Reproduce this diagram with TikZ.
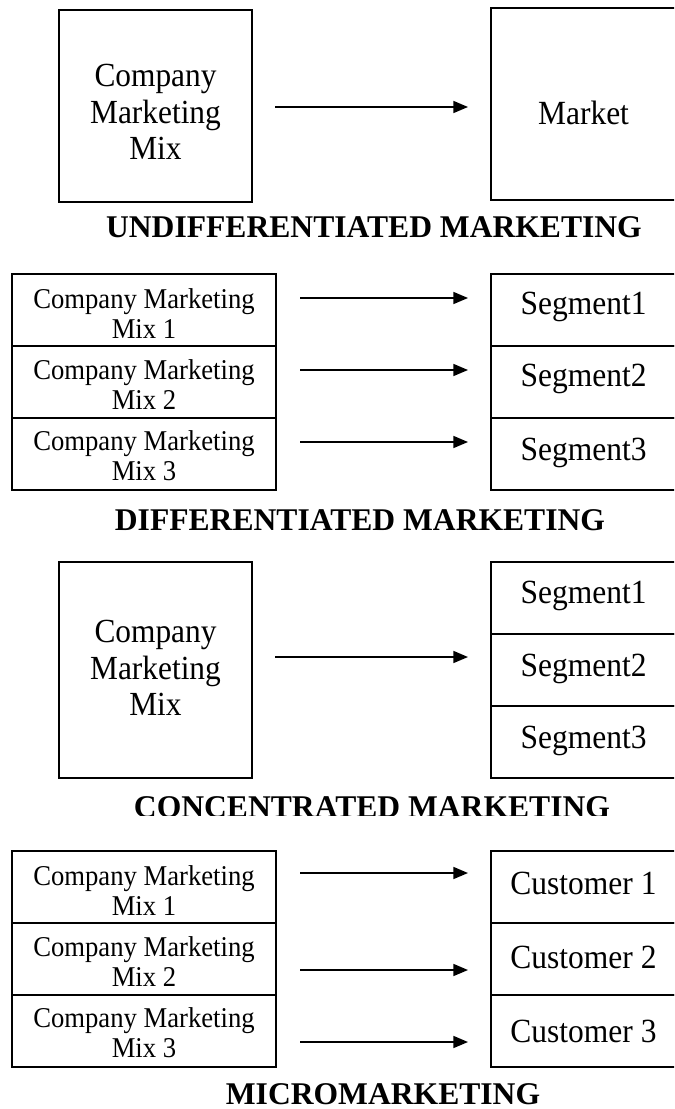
\documentclass[tikz,border=0pt]{standalone}
\usepackage{fontspec}
\setmainfont{Liberation Serif}
\newfontfamily\tallserif[FakeStretch=0.93]{Liberation Serif}
\usetikzlibrary{arrows.meta}
\begin{document}
\begin{tikzpicture}[x=0.75pt,y=-0.75pt,
  box/.style={draw,line width=1.2pt,inner sep=0pt},
  lbl/.style={align=center,inner sep=0pt},
  arr/.style={-{Triangle[length=11pt,width=9pt]},line width=1.2pt},
  big/.style={lbl,font=\tallserif\fontsize{25.3}{27.4}\selectfont},
  seg/.style={lbl,font=\tallserif\fontsize{25.4}{28}\selectfont},
  small/.style={lbl,font=\tallserif\fontsize{21.5}{22.5}\selectfont},
  ttl/.style={font=\fontsize{23.7}{28}\selectfont\bfseries},
  bigbox/.style={box,minimum width=144.75pt},
  lrow/.style={box,minimum width=198pt,minimum height=54pt},
  rrow/.style={box,minimum width=138.75pt,minimum height=54pt}]
\useasboundingbox (0,0) rectangle (674,1109);
\clip (0,0) rectangle (674,1109);
% ---------- Undifferentiated ----------
\node[bigbox,minimum height=144pt] (umix) at (155.5,106) {};
\node[big] (umixt) at ([yshift=-4.5pt]umix.center) {Company\\Marketing\\Mix};
\node[box,minimum width=138.75pt,minimum height=144pt] (umkt) at (583.5,104) {};
\node[seg] (umktt) at ([yshift=-6.5pt]umkt.center) {Market};
\coordinate (ua0) at (275,107); \coordinate (ua1) at (468,107);
\draw[arr] (ua0) -- (ua1);
\node[ttl] (utitle) at (374,227) {UNDIFFERENTIATED MARKETING};
% ---------- Differentiated ----------
\node[lrow] (dl1) at (144,310) {};
\node[lrow] (dl2) at (144,382) {};
\node[lrow] (dl3) at (144,454) {};
\node[small] (dl1t) at ([yshift=-3pt]dl1.center) {Company Marketing\\Mix 1};
\node[small] (dl2t) at ([yshift=-2pt]dl2.center) {Company Marketing\\Mix 2};
\node[small] (dl3t) at ([yshift=-1pt]dl3.center) {Company Marketing\\Mix 3};
\node[rrow] (dr1) at (583.5,310) {};
\node[rrow] (dr2) at (583.5,382) {};
\node[rrow] (dr3) at (583.5,454) {};
\node[seg] (dr1t) at ([yshift=2.5pt]dr1.center) {Segment1};
\node[seg] (dr2t) at ([yshift=2pt]dr2.center) {Segment2};
\node[seg] (dr3t) at ([yshift=1pt]dr3.center) {Segment3};
\coordinate (da10) at (300,298); \coordinate (da11) at (468,298);
\coordinate (da20) at (300,370); \coordinate (da21) at (468,370);
\coordinate (da30) at (300,442); \coordinate (da31) at (468,442);
\draw[arr] (da10) -- (da11);
\draw[arr] (da20) -- (da21);
\draw[arr] (da30) -- (da31);
\node[ttl] (dtitle) at (360,520) {DIFFERENTIATED MARKETING};
% ---------- Concentrated ----------
\node[bigbox,minimum height=162pt] (cmix) at (155.5,670) {};
\node[big] (cmixt) at ([yshift=1.5pt]cmix.center) {Company\\Marketing\\Mix};
\node[rrow] (cr1) at (583.5,598) {};
\node[rrow] (cr2) at (583.5,670) {};
\node[rrow] (cr3) at (583.5,742) {};
\node[seg] (cr1t) at ([yshift=1.5pt]cr1.center) {Segment1};
\node[seg] (cr2t) at ([yshift=1pt]cr2.center) {Segment2};
\node[seg] (cr3t) at ([yshift=1pt]cr3.center) {Segment3};
\coordinate (ca0) at (275,657); \coordinate (ca1) at (468,657);
\draw[arr] (ca0) -- (ca1);
\begin{scope}
\clip (0,785) rectangle (674,815);
\node[ttl] (ctitle) at (372,807) {CONCENTRATED MARKETING};
\end{scope}
% ---------- Micromarketing ----------
\node[lrow] (ml1) at (144,887) {};
\node[lrow] (ml2) at (144,959) {};
\node[lrow] (ml3) at (144,1031) {};
\node[small] (ml1t) at ([yshift=-3pt]ml1.center) {Company Marketing\\Mix 1};
\node[small] (ml2t) at ([yshift=-2pt]ml2.center) {Company Marketing\\Mix 2};
\node[small] (ml3t) at ([yshift=-1pt]ml3.center) {Company Marketing\\Mix 3};
\node[rrow] (mr1) at (583.5,887) {};
\node[rrow] (mr2) at (583.5,959) {};
\node[rrow] (mr3) at (583.5,1031) {};
\node[seg] (mr1t) at ([yshift=3pt]mr1.center) {Customer 1};
\node[seg] (mr2t) at ([yshift=1.5pt]mr2.center) {Customer 2};
\node[seg] (mr3t) at ([yshift=0pt]mr3.center) {Customer 3};
\coordinate (ma10) at (300,873); \coordinate (ma11) at (468,873);
\coordinate (ma20) at (300,970); \coordinate (ma21) at (468,970);
\coordinate (ma30) at (300,1042); \coordinate (ma31) at (468,1042);
\draw[arr] (ma10) -- (ma11);
\draw[arr] (ma20) -- (ma21);
\draw[arr] (ma30) -- (ma31);
\node[ttl] (mtitle) at (383,1094) {MICROMARKETING};
\end{tikzpicture}
\end{document}
